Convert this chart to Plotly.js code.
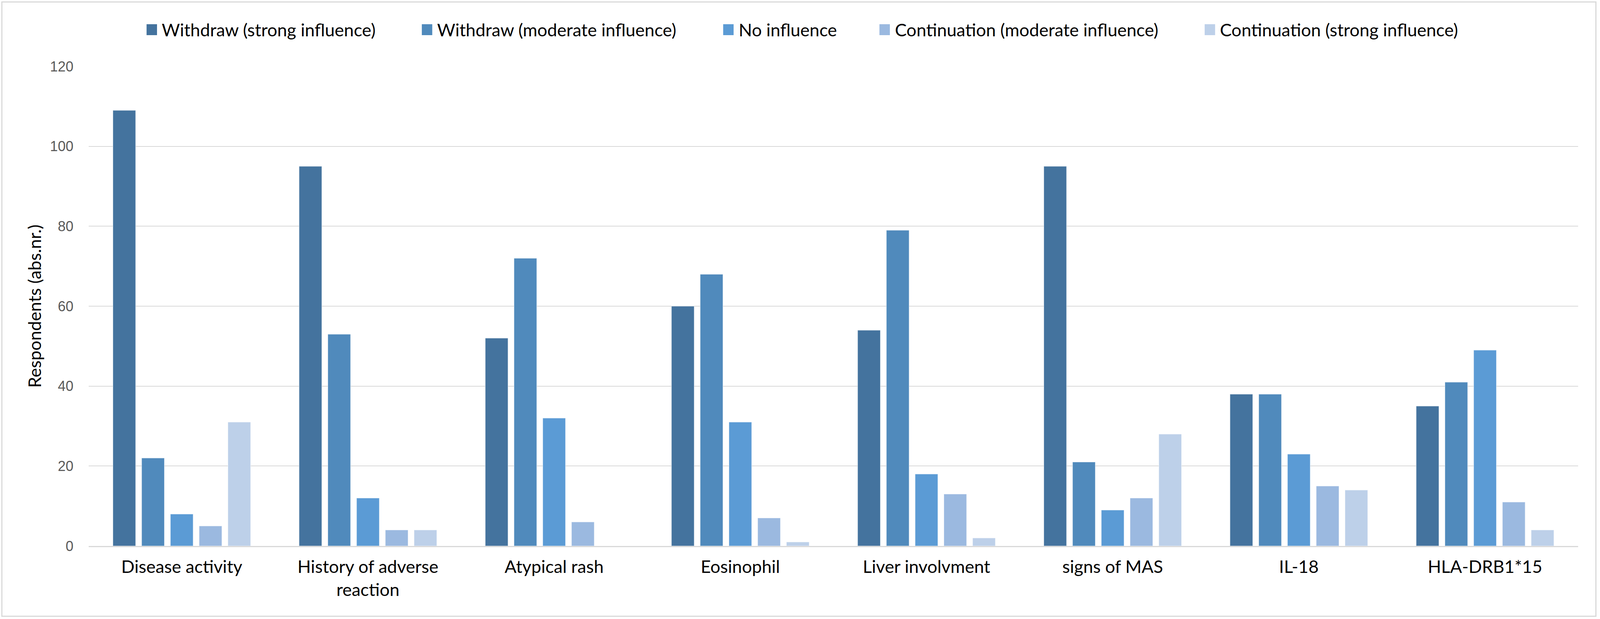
<!DOCTYPE html>
<html>
<head>
<meta charset="utf-8">
<script src="https://cdn.plot.ly/plotly-3.0.1.min.js"></script>
<style>
  html, body { margin: 0; padding: 0; background: #ffffff; overflow: hidden; }
  #chart { width: 100vw; height: 100vh; }
</style>
</head>
<body>
<div id="chart"></div>
<script>
// ---------------- data ----------------
const categories = [
  'Disease activity',
  'History of adverse<br>reaction',
  'Atypical rash',
  'Eosinophil',
  'Liver involvment',
  'signs of MAS',
  'IL-18',
  'HLA-DRB1*15'
];
const seriesNames = [
  'Withdraw (strong influence)',
  'Withdraw (moderate influence)',
  'No influence',
  'Continuation (moderate influence)',
  'Continuation (strong influence)'
];
const withdrawStrong       = [109, 95, 52, 60, 54, 95, 38, 35];
const withdrawModerate     = [22, 53, 72, 68, 79, 21, 38, 41];
const noInfluence          = [8, 12, 32, 31, 18, 9, 23, 49];
const continuationModerate = [5, 4, 6, 7, 13, 12, 15, 11];
const continuationStrong   = [31, 4, 0, 1, 2, 28, 14, 4];
const yTickValues = [0, 20, 40, 60, 80, 100, 120];
const yTitle = 'Respondents (abs.nr.)';

// ---------------- styling ----------------
const colors = ['#44739E', '#508ABC', '#5B9BD5', '#9BB9E0', '#BDD0E9'];
const REF_W = 4290, REF_H = 1585;
const W = Math.min(window.innerWidth || REF_W, document.documentElement.clientWidth || REF_W);
const H = window.innerHeight || REF_H;
const sx = W / REF_W, sy = H / REF_H;
const fs = Math.min(sx, sy);
const M = { l: Math.round(238 * sx), r: Math.round(59 * sx), t: Math.round(170 * sy), b: Math.round(187 * sy) };
const PW = W - M.l - M.r, PH = H - M.t - M.b;
const px2x = X => (X * sx - M.l) / PW;
const px2y = Y => (H - M.b - Y * sy) / PH;

const allSeries = [withdrawStrong, withdrawModerate, noInfluence, continuationModerate, continuationStrong];
const traces = allSeries.map((vals, i) => ({
  type: 'bar',
  name: seriesNames[i],
  x: categories,
  y: vals,
  marker: { color: colors[i], line: { color: 'rgba(255,255,255,0.55)', width: 1.5 } },
  showlegend: false,
  hoverinfo: 'skip'
}));

const textFamily = 'Lato, "Open Sans", sans-serif';
// manual legend (squares + text) positioned like the reference
const legendSquareX = [393, 1131, 1939, 2358, 3230];
const legendFont = { family: textFamily, size: Math.round(47 * fs), color: '#000000' };
const shapes = [];
const annotations = [];
legendSquareX.forEach((lx, i) => {
  shapes.push({
    type: 'rect', xref: 'paper', yref: 'paper',
    x0: px2x(lx), x1: px2x(lx + 28), y0: px2y(90), y1: px2y(62),
    fillcolor: colors[i], line: { width: 0 }
  });
  annotations.push({
    xref: 'paper', yref: 'paper', x: px2x(lx + 39), y: px2y(76),
    xanchor: 'left', yanchor: 'middle', showarrow: false,
    text: seriesNames[i], font: legendFont
  });
});
// outer chart border
shapes.push({
  type: 'rect', xref: 'paper', yref: 'paper',
  x0: px2x(5), x1: px2x(4279), y0: px2y(1578), y1: px2y(5),
  line: { color: '#D9D9D9', width: 3 }, fillcolor: 'rgba(0,0,0,0)'
});

const layout = {
  width: W, height: H,
  margin: M,
  paper_bgcolor: '#ffffff',
  plot_bgcolor: '#ffffff',
  barmode: 'group',
  bargap: 0.228,
  bargroupgap: 0.208,
  showlegend: false,
  font: { family: textFamily, size: Math.round(47 * fs), color: '#000000' },
  xaxis: {
    type: 'category',
    tickfont: { family: textFamily, size: Math.round(47 * fs), color: '#000000' },
    showgrid: false,
    showline: true, linecolor: '#D9D9D9', linewidth: 3,
    ticks: '',
    ticklabelstandoff: Math.round(12 * sy),
    fixedrange: true
  },
  yaxis: {
    range: [0, 120],
    tickvals: yTickValues,
    ticktext: yTickValues.map(String),
    tickfont: { family: '"Liberation Sans", Arial, sans-serif', size: Math.round(38 * fs), color: '#595959' },
    showgrid: true, gridcolor: '#D9D9D9', gridwidth: 2,
    zeroline: false,
    showline: false,
    ticks: '',
    ticklabelstandoff: Math.round(40 * sx),
    title: { text: yTitle, font: { family: textFamily, size: Math.round(47 * fs), color: '#000000' }, standoff: Math.round(8 * sx) },
    fixedrange: true
  },
  shapes: shapes,
  annotations: annotations
};

Plotly.newPlot('chart', traces, layout, { displayModeBar: false, staticPlot: true });
</script>
</body>
</html>
